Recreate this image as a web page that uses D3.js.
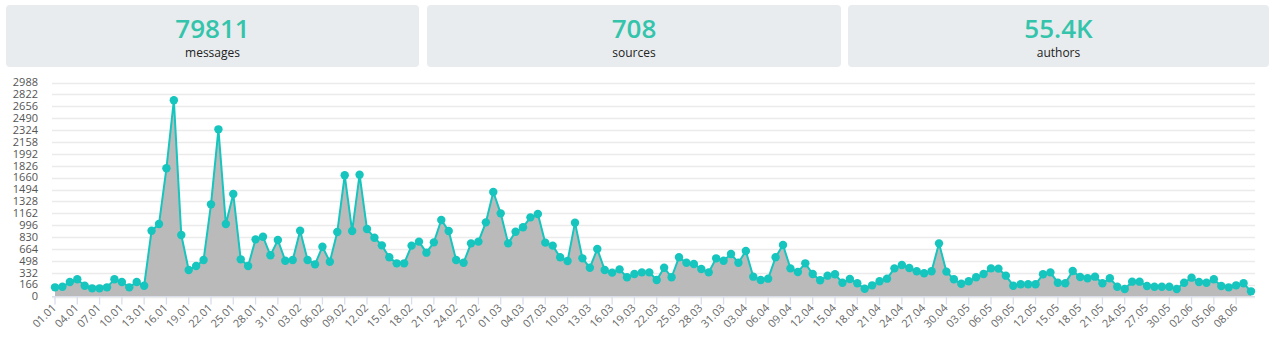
<!DOCTYPE html>
<html>
<head>
<meta charset="utf-8">
<script src="https://cdn.jsdelivr.net/npm/d3@7"></script>
<style>
  html, body { margin: 0; padding: 0; background: #fff; }
  svg { display: block; font-family: "Open Sans", "DejaVu Sans", sans-serif; }
</style>
</head>
<body>
<svg id="chart" width="1277" height="345"></svg>
<script>
// ---- data ----
const statValues = ["79811", "708", "55.4K"];
const statLabels = ["messages", "sources", "authors"];

const startDate = "2020-01-01";
const endDate = "2020-06-10";

const messages = [
  // January
  128,137,202,240,151,114,114,128,240,202,128,202,151,919,1012,1790,2740,858,370,426,510,1287,2334,1012,1431,519,426,798,835,575,789,
  // February
  500,510,919,510,449,695,486,900,1692,914,1701,942,821,714,547,463,463,710,766,612,756,1068,914,510,472,742,766,1035,1459,
  // March
  1161,742,905,966,1105,1152,752,710,547,496,1031,533,402,663,370,333,379,268,314,337,337,230,402,268,547,472,454,384,337,533,500,
  // April
  593,472,635,277,230,249,547,719,393,342,463,314,226,291,310,193,244,184,109,156,212,249,393,440,398,352,324,352,742,347,
  // May
  240,178,212,268,314,393,389,291,151,170,170,170,310,337,193,184,356,272,254,277,184,254,137,105,207,207,147,137,137,137,105,
  // June
  193,263,202,193,240,147,128,156,184,72
];

const yTicks = [0,166,332,498,664,830,996,1162,1328,1494,1660,1826,1992,2158,2324,2490,2656,2822,2988];
const xTickLabels = ["01.01","04.01","07.01","10.01","13.01","16.01","19.01","22.01","25.01","28.01","31.01",
  "03.02","06.02","09.02","12.02","15.02","18.02","21.02","24.02","27.02","01.03","04.03","07.03","10.03",
  "13.03","16.03","19.03","22.03","25.03","28.03","31.03","03.04","06.04","09.04","12.04","15.04","18.04",
  "21.04","24.04","27.04","30.04","03.05","06.05","09.05","12.05","15.05","18.05","21.05","24.05","27.05",
  "30.05","02.06","05.06","08.06"];

// ---- build ----
const parse = d3.timeParse("%Y-%m-%d");
const dates = d3.timeDay.range(parse(startDate), d3.timeDay.offset(parse(endDate), 1));
const data = dates.map((d, i) => ({ date: d, value: messages[i] }));
const fmt = d3.timeFormat("%d.%m");

const svg = d3.select("#chart");

// stat boxes
const boxes = [
  { x: 6, w: 413 },
  { x: 427, w: 414 },
  { x: 848, w: 421 }
];
const boxG = svg.selectAll("g.box").data(boxes).join("g").attr("class", "box");
boxG.append("rect")
  .attr("x", d => d.x).attr("y", 5)
  .attr("width", d => d.w).attr("height", 62)
  .attr("rx", 4).attr("fill", "#e8ecee");
boxG.append("text")
  .attr("x", d => d.x + d.w / 2).attr("y", 38)
  .attr("text-anchor", "middle")
  .attr("font-size", 26).attr("font-weight", 600)
  .attr("fill", "#33c4ab")
  .text((d, i) => statValues[i]);
boxG.append("text")
  .attr("x", d => d.x + d.w / 2).attr("y", 57)
  .attr("text-anchor", "middle")
  .attr("font-size", 12)
  .attr("fill", "#222")
  .text((d, i) => statLabels[i]);

// scales
const x = d3.scaleTime().domain([dates[0], dates[dates.length - 1]]).range([55, 1251]);
const y = d3.scaleLinear().domain([0, 2988]).range([296.5, 82.5]);

// grid
svg.append("g").selectAll("line").data(yTicks).join("line")
  .attr("x1", 52).attr("x2", 1255)
  .attr("y1", d => Math.round(y(d)) + 0.5).attr("y2", d => Math.round(y(d)) + 0.5)
  .attr("stroke", "#ebebeb").attr("stroke-width", 1.3);

// y labels
svg.append("g").selectAll("text").data(yTicks).join("text")
  .attr("x", 38).attr("y", d => y(d))
  .attr("dy", "0.35em")
  .attr("text-anchor", "end")
  .attr("font-size", 11)
  .attr("fill", "#555")
  .text(d => d);

// area + line
const area = d3.area().x(d => x(d.date)).y0(y(0)).y1(d => y(d.value));
const line = d3.line().x(d => x(d.date)).y(d => y(d.value));
svg.append("path").datum(data).attr("d", area).attr("fill", "#bababa");
svg.append("path").datum(data).attr("d", line)
  .attr("fill", "none").attr("stroke", "#16c5bd").attr("stroke-width", 2);

// x axis
const labelSet = new Set(xTickLabels);
const tickDates = dates.filter(d => labelSet.has(fmt(d)));
const axisY = 296.5;
svg.append("line").attr("x1", 52).attr("x2", 1255)
  .attr("y1", axisY).attr("y2", axisY)
  .attr("stroke", "#d9deea").attr("stroke-width", 1);
const xt = svg.append("g").selectAll("g").data(tickDates).join("g")
  .attr("transform", d => `translate(${x(d)},${axisY})`);
xt.append("line").attr("y1", 0).attr("y2", 8)
  .attr("stroke", "#d9deea").attr("stroke-width", 1.3);
xt.append("text")
  .attr("transform", "translate(2,12) rotate(-45)")
  .attr("text-anchor", "end")
  .attr("font-size", 11)
  .attr("fill", "#666")
  .text(d => fmt(d));

// markers
svg.append("g").selectAll("circle").data(data).join("circle")
  .attr("cx", d => x(d.date)).attr("cy", d => y(d.value))
  .attr("r", 4.2).attr("fill", "#16c5bd");
</script>
</body>
</html>
